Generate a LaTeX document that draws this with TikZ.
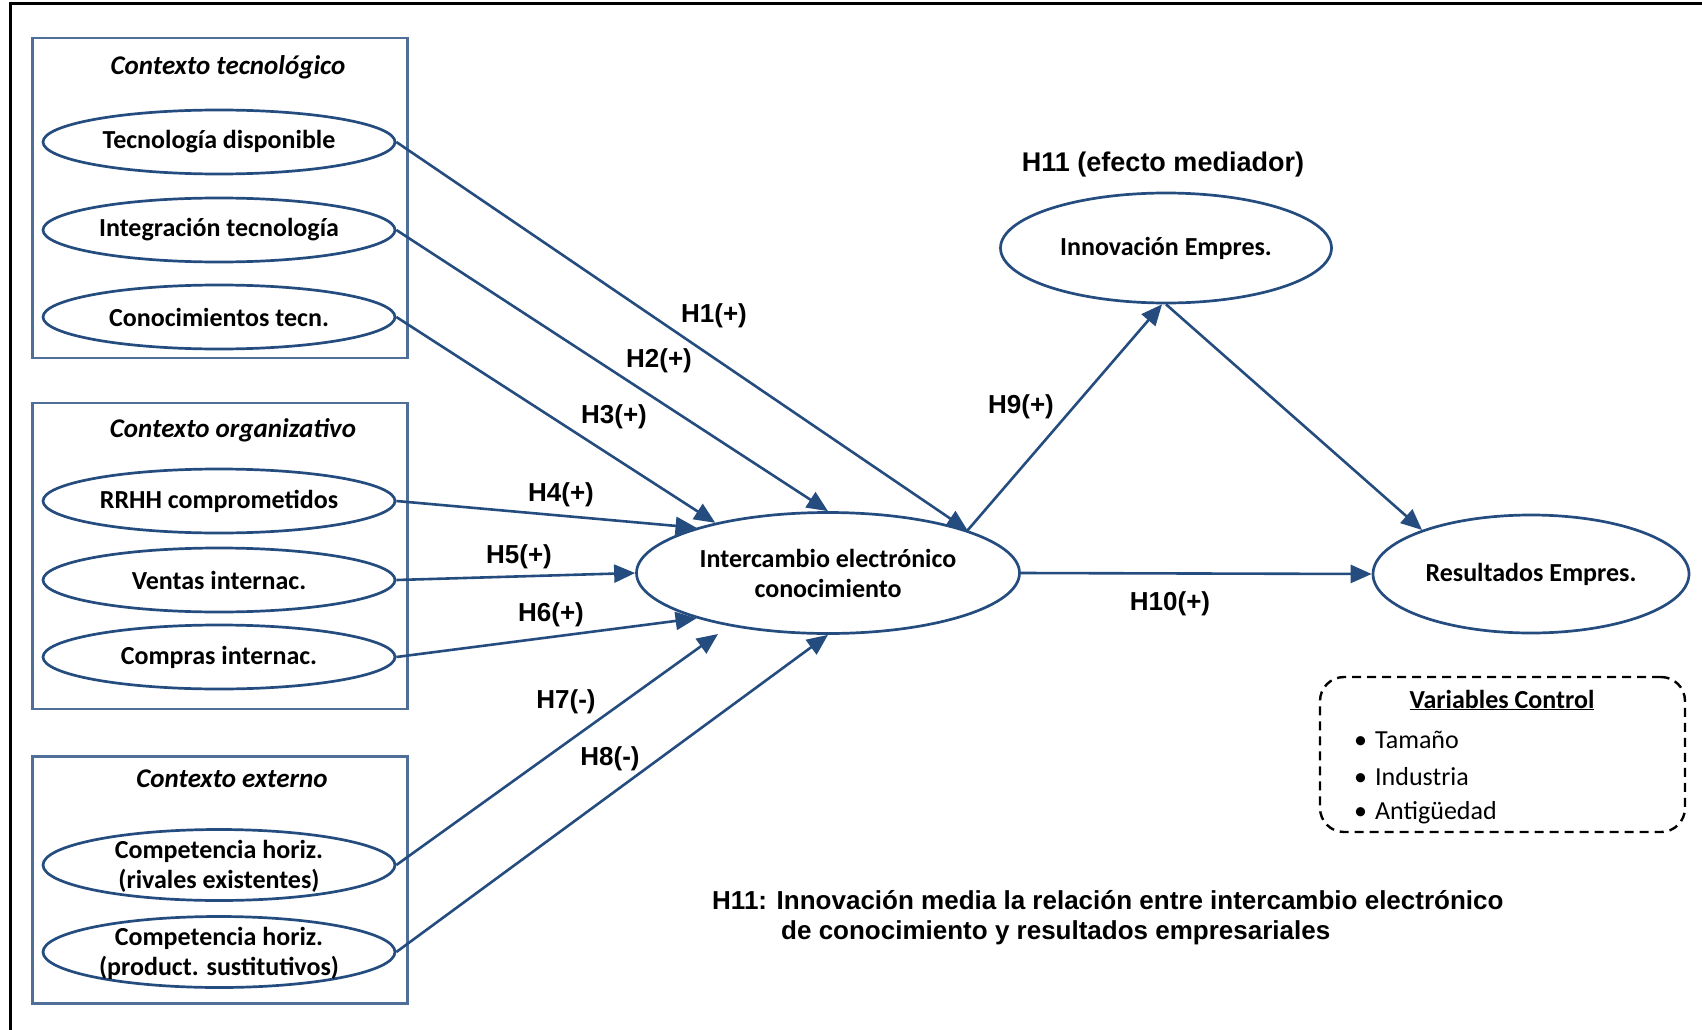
\documentclass[tikz,border=0pt]{standalone}
\usepackage{fontspec}
\setmainfont{Carlito}
\newfontfamily\arialfont{Liberation Sans}
\usetikzlibrary{arrows.meta,shapes.geometric,calc}

\definecolor{pathblue}{RGB}{36,76,126}
\definecolor{boxblue}{RGB}{79,110,152}

\begin{document}
\begin{tikzpicture}[x=1pt,y=-1pt,
  construct/.style={draw=pathblue, line width=2.7pt, ellipse, inner sep=0pt,
    align=center, font=\fontsize{26}{30}\selectfont\bfseries},
  factor/.style={construct, minimum width=352pt, minimum height=64pt},
  factortwo/.style={construct, minimum width=352pt, minimum height=71pt},
  group/.style={draw=boxblue, line width=2.4pt, rectangle, inner sep=0pt},
  grouptitle/.style={font=\fontsize{27}{30}\selectfont\bfseries\itshape},
  hyp/.style={font=\arialfont\bfseries\fontsize{26}{30}\selectfont, inner sep=0pt},
  link/.style={draw=pathblue, line width=2.6pt, -{Triangle[length=21pt,width=18pt]}},
  ctrlitem/.style={anchor=west, inner sep=0pt, font=\fontsize{26}{30}\selectfont},
]
\useasboundingbox (0,0) rectangle (1702,1030);

% page frame (top and left edges)
\draw[line width=3pt] (10,1030) -- (10,4) -- (1702,4);

% context groups
\node[group, minimum width=375pt, minimum height=320pt] (gtec) at (220,198) {};
\node[group, minimum width=375pt, minimum height=306pt] (gorg) at (220,556) {};
\node[group, minimum width=375pt, minimum height=247pt] (gext) at (220,880) {};

\node[grouptitle] (ttec) at (228,67) {Contexto tecnológico};
\node[grouptitle] (torg) at (233,430) {Contexto organizativo};
\node[grouptitle] (text) at (232,779) {Contexto externo};

% antecedent constructs
\node[factor] (td) at (219,142) {\raisebox{-3pt}{Tecnología disponible}};
\node[factor] (it) at (219,230) {\raisebox{-3pt}{Integración tecnología}};
\node[factor] (ct) at (219,317) {\raisebox{-3pt}{Conocimientos tecn.}};
\node[factor] (rh) at (219,501) {\raisebox{-3pt}{RRHH comprometidos}};
\node[factor] (vi) at (219,580) {\raisebox{-3pt}{Ventas internac.}};
\node[factor] (ci) at (219,657) {\raisebox{-3pt}{Compras internac.}};
\node[factortwo] (cr) at (219,865) {\smash{\raisebox{-9pt}{\begin{tabular}{@{}c@{}}Competencia horiz.\\(rivales existentes)\end{tabular}}}};
\node[factortwo] (cs) at (219,952) {\smash{\raisebox{-9pt}{\begin{tabular}{@{}c@{}}Competencia horiz.\\(product. sustitutivos)\end{tabular}}}};

% central, mediator and outcome constructs
\node[construct, minimum width=383pt, minimum height=121pt] (ie) at (828,573) {Intercambio electrónico\\conocimiento};
\node[construct, minimum width=331pt, minimum height=110pt] (inn) at (1166,248) {Innovación Empres.};
\node[construct, minimum width=316pt, minimum height=118pt] (res) at (1531,574) {Resultados Empres.};

% hypothesised paths
\draw[link] (td.east) -- (ie.17);
\draw[link] (it.east) -- (ie.north);
\draw[link] (ct.east) -- (ie.156);
\draw[link] (rh.east) -- (ie.161);
\draw[link] (vi.east) -- (ie.west);
\draw[link] (ci.east) -- (ie.199);
\draw[link] (cr.east) -- ($(ie.center)+(-110,61)$);
\draw[link] (cs.east) -- (ie.south);
\draw[link] (ie.17) -- (inn.266);
\draw[link] (inn.south) -- (res.158);
\draw[link] (ie.east) -- (res.west);

% path labels
\node[hyp] (h1) at (714,316) {H1(+)};
\node[hyp] (h2) at (659,361) {H2(+)};
\node[hyp] (h3) at (614,417) {H3(+)};
\node[hyp] (h4) at (561,495) {H4(+)};
\node[hyp] (h5) at (519,557) {H5(+)};
\node[hyp] (h6) at (551,615) {H6(+)};
\node[hyp] (h7) at (566,702) {H7(-)};
\node[hyp] (h8) at (610,759) {H8(-)};
\node[hyp] (h9) at (1021,407) {H9(+)};
\node[hyp] (h10) at (1170,604) {H10(+)};
\node[hyp, font=\arialfont\bfseries\fontsize{27}{30}\selectfont] (h11) at (1163,165) {H11 (efecto mediador)};

% control variables
\node[draw, line width=2.4pt, dash pattern=on 9pt off 6pt, rounded corners=24pt,
  minimum width=365pt, minimum height=155pt, inner sep=0pt] (ctrl) at (1502.5,754.5) {};
\node[inner sep=0pt, font=\fontsize{26}{30}\selectfont\bfseries] (ctitle) at (1502,700) {\underline{Variables Control}};
\node[ctrlitem] (c1) at (1354,740) {\textbullet\hspace{8pt}Tamaño};
\node[ctrlitem] (c2) at (1354,777) {\textbullet\hspace{8pt}Industria};
\node[ctrlitem] (c3) at (1354,813) {\textbullet\hspace{8pt}Antigüedad};

% mediation note
\node[hyp, anchor=west] (note1) at (712,900) {H11: Innovación media la relación entre intercambio electrónico};
\node[hyp, anchor=west] (note2) at (781,933) {de conocimiento y resultados empresariales};
\end{tikzpicture}
\end{document}
